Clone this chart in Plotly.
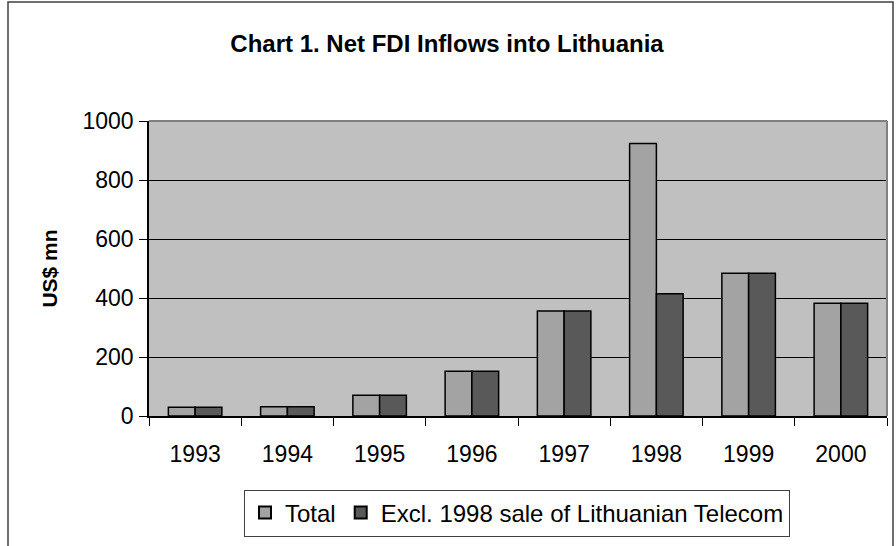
import plotly.graph_objects as go

years = ["1993", "1994", "1995", "1996", "1997", "1998", "1999", "2000"]
total = [30, 31, 70, 152, 356, 924, 484, 382]
excl = [30, 31, 70, 152, 356, 414, 484, 382]
y_ticks = [0, 200, 400, 600, 800, 1000]

W, H = 896, 546
L, R, T, B = 149, 887, 121, 416
FONT = "Liberation Sans, Arial"

fig = go.Figure()
fig.add_trace(go.Bar(x=years, y=total, name="Total",
                     marker=dict(color="#A3A3A3", line=dict(color="#000000", width=1.5))))
fig.add_trace(go.Bar(x=years, y=excl, name="Excl. 1998 sale of Lithuanian Telecom",
                     marker=dict(color="#595959", line=dict(color="#000000", width=1.5))))

def px_x(p):
    return (p - L) / (R - L)

def px_y(p):
    return (B - p) / (B - T)

# outer chart frame
fig.add_shape(type="rect", xref="paper", yref="paper",
              x0=px_x(8), x1=px_x(893), y0=px_y(560), y1=px_y(2),
              line=dict(color="#404040", width=1.5), layer="below")
# plot area top/right border
fig.add_shape(type="line", xref="paper", yref="paper", x0=0, x1=1, y0=1, y1=1,
              line=dict(color="#808080", width=2))
fig.add_shape(type="line", xref="paper", yref="paper", x0=1, x1=1, y0=0, y1=1,
              line=dict(color="#808080", width=2))

fig.update_layout(
    width=W, height=H,
    margin=dict(l=L, r=W - R, t=T, b=H - B),
    paper_bgcolor="white",
    plot_bgcolor="#C0C0C0",
    barmode="group",
    bargap=0.42,
    bargroupgap=0,
    font=dict(family=FONT, color="#000000"),
    title=dict(text="<b>Chart 1. Net FDI Inflows into Lithuania</b>",
               x=447 / W, xref="container", xanchor="center",
               y=1 - 44 / H, yanchor="middle",
               font=dict(size=24, family=FONT)),
    showlegend=True,
    legend=dict(orientation="h", x=px_x(517), xanchor="center",
                y=px_y(513), yanchor="middle",
                bordercolor="#404040", borderwidth=1,
                bgcolor="white",
                font=dict(size=24, family=FONT),
                itemsizing="constant", itemwidth=30, tracegroupgap=0),
    xaxis=dict(type="category", tickson="boundaries", ticks="outside", ticklen=8,
               tickcolor="#000000", showline=True, linecolor="#000000", linewidth=1.5,
               showgrid=False, ticklabelstandoff=17,
               tickfont=dict(size=23, family=FONT)),
    yaxis=dict(range=[0, 1000], tickvals=y_ticks, ticks="outside", ticklen=8,
               tickcolor="#000000", showline=True, linecolor="#000000", linewidth=1.5,
               showgrid=True, gridcolor="#000000", gridwidth=1, zeroline=False,
               ticklabelstandoff=1,
               tickfont=dict(size=23, family=FONT),
               title=dict(text="<b>US$ mn</b>", standoff=19,
                          font=dict(size=21, family=FONT))),
)

fig.write_html("out.html", config={"displayModeBar": False},
               post_script="document.body.style.margin='0';")
